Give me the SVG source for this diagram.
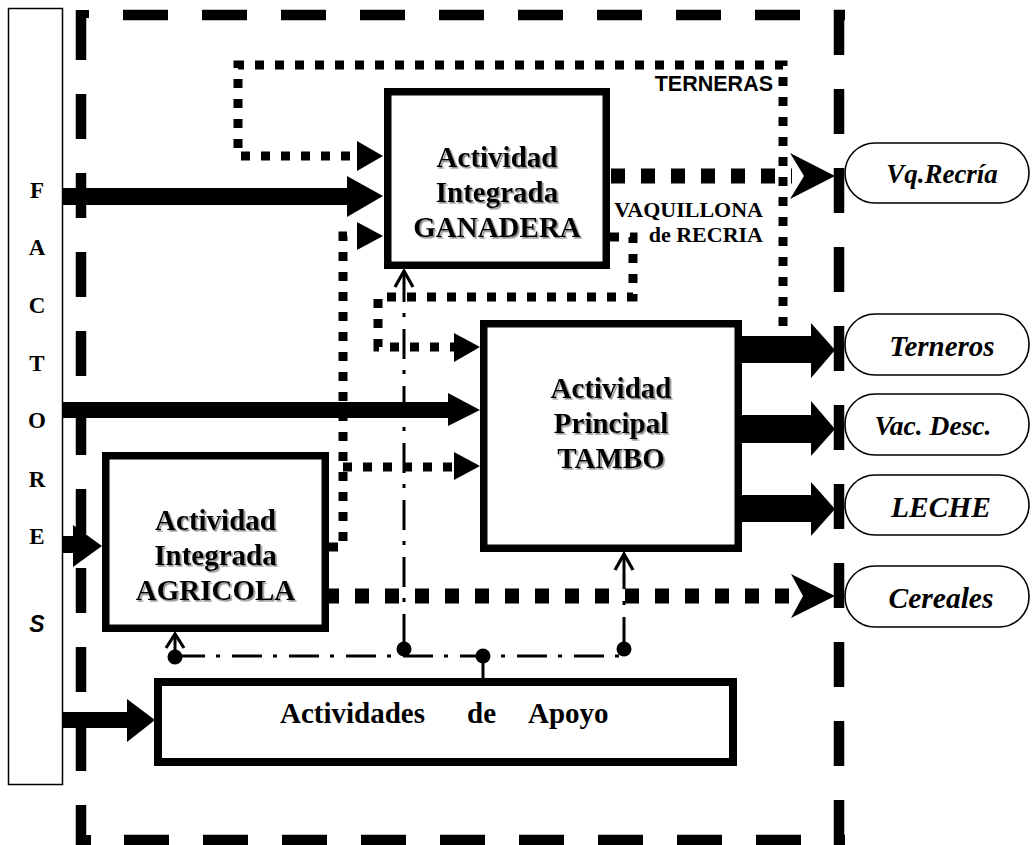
<svg xmlns="http://www.w3.org/2000/svg" width="1032" height="845" viewBox="0 0 1032 845">
<style>
.frame{fill:none;stroke:#000;stroke-width:10.5;stroke-dasharray:45 34}
.dot{fill:none;stroke:#000;stroke-width:9;stroke-dasharray:9 11}
.big{fill:none;stroke:#000;stroke-width:15;stroke-dasharray:14 16}
.dd{fill:none;stroke:#000;stroke-width:3;stroke-dasharray:30 11 4 12}
.ln{fill:none;stroke:#000;stroke-width:3}
.chev{fill:none;stroke:#000;stroke-width:3.2;stroke-linejoin:miter}
.box{fill:#fff;stroke:#000;stroke-width:7.5}
.oval{fill:#fff;stroke:#000;stroke-width:1.6}
.bt{font-family:"Liberation Serif",serif;font-weight:bold;font-size:29px;text-anchor:middle;fill:#000}
.ot{font-family:"Liberation Serif",serif;font-weight:bold;font-style:italic;text-anchor:middle;fill:#000}
.fl{font-family:"Liberation Serif",serif;font-weight:bold;font-size:23px;text-anchor:middle;fill:#000}
.lb{font-family:"Liberation Serif",serif;font-weight:bold;font-size:22px;text-anchor:end;fill:#000}
</style>
<defs>
<filter id="sh" x="-10%" y="-10%" width="120%" height="130%">
<feDropShadow dx="1.6" dy="1.6" stdDeviation="0.7" flood-color="#808080" flood-opacity="0.9"/>
</filter>
</defs>

<!-- outer dashed frame -->
<g id="frame">
<path class="frame" d="M81 15 V845"/>
<path class="frame" d="M81 10 V15" style="stroke-dasharray:none"/>
<path class="frame" d="M123 15 H845"/>
<path class="frame" d="M839 10 V845"/>
<path class="frame" d="M124 840 H845"/>
<path d="M84 835 H91 V845 H84 Z" fill="#000"/>
<path d="M84 10 H89 V18 H84 Z" fill="#000"/>
</g>

<!-- FACTORES -->
<g id="factores">
<rect x="8.5" y="8.5" width="54" height="776" fill="#fff" stroke="#000" stroke-width="1.5"/>
<text class="fl" x="37" y="198">F</text>
<text class="fl" x="37" y="255">A</text>
<text class="fl" x="37" y="313">C</text>
<text class="fl" x="37" y="371">T</text>
<text class="fl" x="37" y="428">O</text>
<text class="fl" x="37" y="487">R</text>
<text class="fl" x="37" y="544">E</text>
<text x="37" y="632" style="font-family:'Liberation Sans',sans-serif;font-weight:bold;font-style:italic;font-size:23px;text-anchor:middle">S</text>
</g>

<!-- connectors -->
<g id="connectors">
<!-- TERNERAS loop -->
<path class="dot" d="M783 326 V65 H238 V156 H357"/>
<polygon points="357,141 383,156 357,171"/>
<!-- VAQUILLONA loop -->
<path class="dot" d="M610 237 H633 V297 H378 V347 H454"/>
<polygon points="454,333 480,347 454,362"/>
<!-- Agricola to Ganadera / Tambo -->
<path class="dot" d="M329 547 H343 V236 H357"/>
<polygon points="357,222 383,236 357,250"/>
<path class="dot" d="M343 467 H454"/>
<polygon points="454,452 480,466 454,480"/>

<!-- thick arrows from factores -->
<rect x="63" y="188" width="285" height="17"/>
<polygon points="347,176 383,196 347,217"/>
<rect x="63" y="402" width="386" height="16"/>
<polygon points="448,393 480,410 448,426"/>
<rect x="63" y="536" width="11" height="17"/>
<polygon points="73,525 102,546 73,567"/>
<rect x="63" y="712" width="65" height="16"/>
<polygon points="127,699 155,720 127,742"/>

<!-- thick outputs from tambo -->
<rect x="742" y="336" width="70" height="27"/>
<polygon points="811,323 835,350 811,378"/>
<rect x="742" y="415" width="70" height="28"/>
<polygon points="811,401 835,429 811,456"/>
<rect x="742" y="495" width="70" height="27"/>
<polygon points="811,482 835,509 811,536"/>

<!-- big dotted outputs -->
<path class="big" d="M610 176 H792" style="stroke-dashoffset:-1"/>
<polygon points="790,153 835,176 790,199 804,176"/>
<path class="big" d="M325 596 H792"/>
<polygon points="791,574 835,596 791,618 803,596"/>

<!-- dash-dot support lines -->
<path class="dd" d="M175 656 H624"/>
<path class="dd" d="M404 272 V649"/>
<path class="dd" d="M624 555 V649" style="stroke-dasharray:34 12 4 12"/>
<path class="ln" d="M175 636 V656"/>
<polyline class="chev" points="166,648 175,634 184,648"/>
<polyline class="chev" points="395,287 404,271 413,287"/>
<polyline class="chev" points="615,570 624,554 633,570"/>
<path class="ln" d="M483 656 V682"/>
<circle cx="175" cy="657" r="7.5"/>
<circle cx="404" cy="649" r="7.5"/>
<circle cx="483" cy="656" r="7.5"/>
<circle cx="624" cy="649" r="7.5"/>
</g>

<!-- labels on connectors -->
<g id="labels">
<text x="773" y="91" style="font-family:'Liberation Sans',sans-serif;font-weight:bold;font-size:21.5px;text-anchor:end">TERNERAS</text>
<text class="lb" x="763" y="217">VAQUILLONA</text>
<text class="lb" x="763" y="242">de RECRIA</text>
</g>

<!-- boxes -->
<g id="ganadera">
<rect class="box" x="387.75" y="91.75" width="218.5" height="173.5"/>
<g filter="url(#sh)">
<text class="bt" x="497" y="167">Actividad</text>
<text class="bt" x="497" y="202">Integrada</text>
<text class="bt" x="497" y="237">GANADERA</text>
</g>
</g>

<g id="tambo">
<rect class="box" x="483.75" y="323.75" width="254.5" height="224.5"/>
<g filter="url(#sh)">
<text class="bt" x="611" y="398">Actividad</text>
<text class="bt" x="611" y="433">Principal</text>
<text class="bt" x="611" y="468">TAMBO</text>
</g>
</g>

<g id="agricola">
<rect class="box" x="105.75" y="455.75" width="219.5" height="172.5"/>
<g filter="url(#sh)">
<text class="bt" x="215.5" y="530">Actividad</text>
<text class="bt" x="215.5" y="565">Integrada</text>
<text class="bt" x="215.5" y="600">AGRICOLA</text>
</g>
</g>

<g id="apoyo">
<rect x="158" y="682" width="575" height="80" fill="#fff" stroke="#000" stroke-width="8"/>
<text style="font-family:'Liberation Serif',serif;font-weight:bold;font-size:29px" y="723"><tspan x="280">Actividades</tspan><tspan x="467">de</tspan><tspan x="528">Apoyo</tspan></text>
</g>

<!-- outputs -->
<g id="out-vq">
<rect class="oval" x="845" y="143" width="184" height="60" rx="30" ry="30"/>
<text class="ot" x="942" y="183" style="font-size:27px">Vq.Recría</text>
</g>
<g id="out-terneros">
<rect class="oval" x="845" y="314" width="184" height="61" rx="30" ry="30"/>
<text class="ot" x="942" y="356" style="font-size:29px">Terneros</text>
</g>
<g id="out-vac">
<rect class="oval" x="845" y="394" width="184" height="61" rx="30" ry="30"/>
<text class="ot" x="933" y="435" style="font-size:27.5px">Vac. Desc.</text>
</g>
<g id="out-leche">
<rect class="oval" x="845" y="475" width="184" height="60" rx="30" ry="30"/>
<text class="ot" x="941" y="517" style="font-size:29.5px">LECHE</text>
</g>
<g id="out-cereales">
<rect class="oval" x="845" y="566" width="184" height="61" rx="30" ry="30"/>
<text class="ot" x="941" y="608" style="font-size:29.5px">Cereales</text>
</g>
</svg>
